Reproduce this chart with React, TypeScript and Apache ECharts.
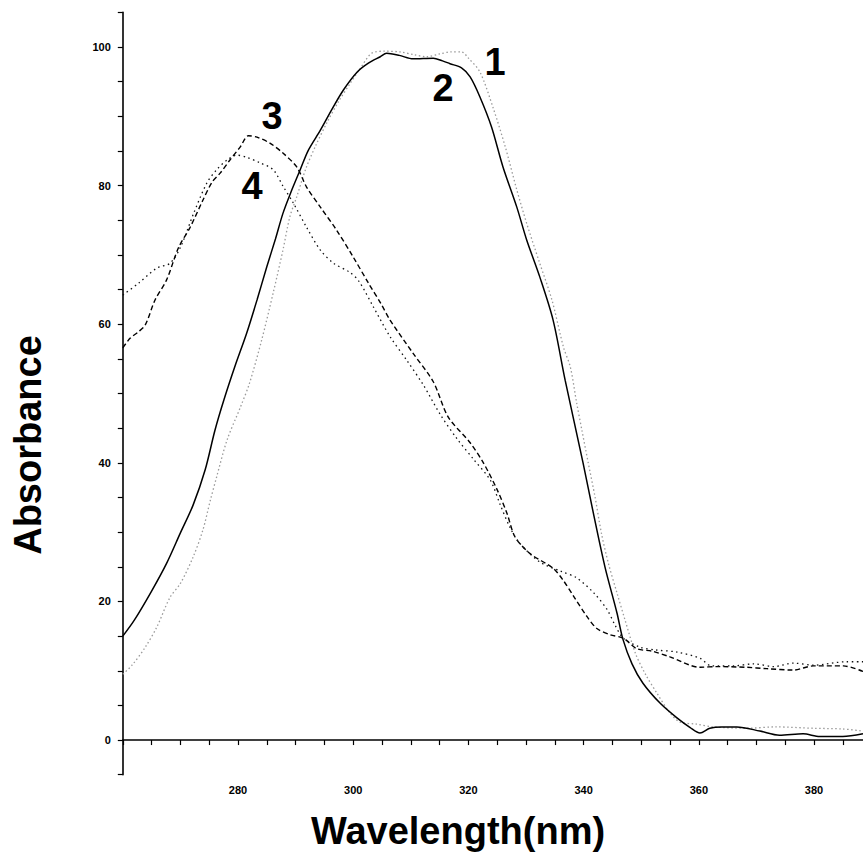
import { useEffect, useRef } from 'react';
import * as echarts from 'echarts';

// [wavelength nm, absorbance]
const curve1: [number, number][] = [
  [260, 9.5], [261.6, 10.8], [263.9, 13.4], [265.9, 16.3], [268.2, 20.6], [270, 22.6],
  [272.2, 26.4], [273.9, 30.3], [275.2, 34.6], [276.3, 38], [278.1, 43.3], [280.4, 48],
  [282, 51.5], [284.1, 57.7], [286.1, 64.5], [287.8, 70.7], [289, 75.5], [290.2, 78.4],
  [291.8, 82.5], [293.5, 85.8], [295.5, 89.2], [297.5, 92.2], [299.5, 94.8], [301.3, 97],
  [303.2, 99.1], [305.5, 99.4], [308.1, 99.3], [310.5, 98.9], [312.7, 98.6], [315, 99],
  [317, 99.3], [318.8, 99.3], [320, 98.4], [322, 96.4], [324.3, 91.2], [326.4, 85.6],
  [328.4, 79.4], [330.1, 74.6], [332.3, 69], [334.5, 63.5], [336.5, 56.7], [337.7, 53.8],
  [338.8, 48.6], [339.7, 44.7], [340.8, 40], [342, 35], [343.1, 29.8], [344.3, 25.5],
  [345.8, 21.2], [347.2, 17.3], [349, 12.5], [350.8, 9.4], [352.7, 6.8], [355, 3.9],
  [356.7, 2.6], [359.6, 2.3], [362.5, 1.9], [368.3, 1.7], [373.5, 1.9], [379.8, 1.7],
  [385, 1.6], [388.5, 1.3],
];

const curve2: [number, number][] = [
  [260, 15], [262, 17.3], [265, 21.5], [267.6, 25.5], [270, 29.9], [272.2, 33.9],
  [274.3, 39], [276, 44.7], [277.6, 49.2], [279.5, 54], [281.5, 58.7], [283.3, 63.5],
  [285, 68.3], [286.5, 72.3], [287.8, 76], [289.3, 79.3], [290.8, 82.3], [292.2, 85.1],
  [294.3, 88], [296.3, 91], [298.3, 93.8], [300.7, 96.4], [302.7, 97.7], [304.7, 98.6],
  [305.8, 99.1], [308, 98.8], [310.4, 98.3], [313.9, 98.4], [315.5, 98], [316.8, 97.6],
  [318.8, 97], [320.3, 95.7], [322, 92.8], [324, 88.5], [326, 82.7], [328.4, 76.9],
  [330.1, 72.2], [332.4, 66.8], [334.7, 60.6], [336.8, 51.9], [339.9, 40], [341.7, 32.7],
  [343.7, 25], [345.8, 18.3], [346.8, 14.6], [348.4, 11], [350.3, 8.2], [353.3, 5.3],
  [356.2, 3.2], [358.5, 1.8], [360.2, 1.0], [361.9, 1.7], [364, 1.9], [366.6, 1.9],
  [370.6, 1.3], [374, 0.7], [378.1, 0.9], [381, 0.5], [385, 0.5], [388.5, 0.9],
];

const curve3: [number, number][] = [
  [260, 56.6], [261.3, 58], [262.7, 58.9], [263.9, 59.9], [265.6, 63.5], [267.6, 66.4],
  [269.7, 71.1], [271.7, 74], [273.9, 77.9], [275.5, 80.5], [276.9, 81.8], [278.6, 83.7],
  [280.4, 85.6], [281.8, 87.2], [283.3, 87], [285.6, 86.1], [287.8, 84.7], [290.2, 82.7],
  [291.9, 79.8], [294.3, 76.9], [297.1, 73.6], [300, 69.7], [302.6, 66], [304.8, 63],
  [306.4, 60.6], [310.4, 55.8], [313.9, 51.7], [316.5, 46.6], [320.3, 42.9], [322.6, 40],
  [325, 36.1], [326.7, 32.7], [328.1, 29.3], [330.7, 26.9], [334.7, 24.8], [336.5, 23],
  [338.3, 20.7], [340.6, 17.8], [342.3, 16.1], [344.6, 15.2], [346.9, 14.7], [349.2, 13.2],
  [352, 12.8], [355, 12], [360.2, 10.5], [363.1, 10.6], [368.3, 10.5], [371.8, 10.3],
  [376.4, 10.1], [379.9, 10.7], [385.1, 10.7], [388.5, 9.9],
];

const curve4: [number, number][] = [
  [260, 64.2], [262.7, 65.9], [265.9, 68.1], [268.2, 68.8], [270, 71.1], [272.3, 76],
  [274.6, 80.4], [276.3, 82.3], [278.1, 83.7], [279.8, 84.4], [281.5, 84.1], [283.8, 83.3],
  [286.1, 82.3], [287.9, 79.8], [289.6, 77.5], [291.9, 74], [294.3, 70.7], [296.6, 68.8],
  [299.4, 67.5], [301, 66.2], [303.5, 62.5], [306.4, 58.2], [309.3, 54.8], [312.2, 51.2],
  [315.1, 47], [318, 43.5], [320.9, 40.5], [323.8, 37.5], [325.5, 34], [327.2, 30.7],
  [328.9, 28.4], [332.4, 25.7], [336.2, 24.3], [338.8, 23.4], [341.8, 21.2], [344.1, 18.8],
  [345.5, 16.5], [346.9, 14.7], [349.8, 13.4], [352.5, 13], [356.2, 12.7], [360.2, 11.8],
  [362.2, 10.7], [366, 10.7], [369.5, 11], [373, 10.6], [376.4, 11.1], [379.9, 10.8],
  [385.6, 11.3], [388.5, 11.3],
];

const xTickLabels = [280, 300, 320, 340, 360, 380];
const yTickLabels = [0, 20, 40, 60, 80, 100];
const curveNames = ['1', '2', '3', '4'];

const FONT = '"Liberation Sans", Arial, Helvetica, sans-serif';

export default function App() {
  const chartRef = useRef<HTMLDivElement>(null);

  useEffect(() => {
    if (!chartRef.current) return;

    const chart = echarts.init(chartRef.current, null, { renderer: 'svg' });

    const axisCommon = {
      type: 'value',
      interval: 5,
      splitLine: { show: false },
      axisLine: { show: true, lineStyle: { color: '#000', width: 1.6 } },
      axisTick: { show: true, length: 5, lineStyle: { color: '#000', width: 1.2 } },
    };

    const bigText = (text: string, x: number, y: number, rotation = 0) => ({
      type: 'text',
      x,
      y,
      rotation,
      style: {
        text,
        fill: '#000',
        font: `bold 38px ${FONT}`,
        align: 'center',
        verticalAlign: 'middle',
      },
    });

    const option = {
      animation: false,
      backgroundColor: '#fff',
      grid: { left: 122.8, right: 0, top: 12.4, bottom: 85.3 },
      xAxis: {
        ...axisCommon,
        min: 260,
        max: 388.5,
        axisLabel: {
          showMaxLabel: false,
          margin: 10,
          color: '#000',
          fontSize: 11,
          fontWeight: 'bold',
          fontFamily: FONT,
          formatter: (v: number) => (xTickLabels.includes(v) ? String(v) : ''),
        },
      },
      yAxis: {
        ...axisCommon,
        min: -5,
        max: 105,
        axisLabel: {
          margin: 12,
          color: '#000',
          fontSize: 11,
          fontWeight: 'bold',
          fontFamily: FONT,
          formatter: (v: number) => (yTickLabels.includes(v) ? String(v) : ''),
        },
      },
      series: [
        {
          name: curveNames[0],
          type: 'line',
          data: curve1,
          smooth: 0.3,
          showSymbol: false,
          lineStyle: { color: '#9a9a9a', width: 1.3, type: [1.5, 2.5] },
        },
        {
          name: curveNames[1],
          type: 'line',
          data: curve2,
          smooth: 0.3,
          showSymbol: false,
          lineStyle: { color: '#000', width: 1.5, type: 'solid' },
        },
        {
          name: curveNames[2],
          type: 'line',
          data: curve3,
          smooth: 0.3,
          showSymbol: false,
          lineStyle: { color: '#000', width: 1.4, type: [5, 3] },
        },
        {
          name: curveNames[3],
          type: 'line',
          data: curve4,
          smooth: 0.3,
          showSymbol: false,
          lineStyle: { color: '#111', width: 1.3, type: [1.5, 3.5] },
        },
      ],
      graphic: [
        bigText('Absorbance', 28, 445, Math.PI / 2),
        bigText('Wavelength(nm)', 458, 831),
        bigText(curveNames[0], 495, 62),
        bigText(curveNames[1], 443, 88),
        bigText(curveNames[2], 272, 116),
        bigText(curveNames[3], 252, 186),
      ],
    };

    chart.setOption(option);

    return () => {
      chart.dispose();
    };
  }, []);

  return (
    <div
      ref={chartRef}
      style={{ position: 'absolute', left: 0, top: 0, width: 863, height: 860 }}
    />
  );
}
